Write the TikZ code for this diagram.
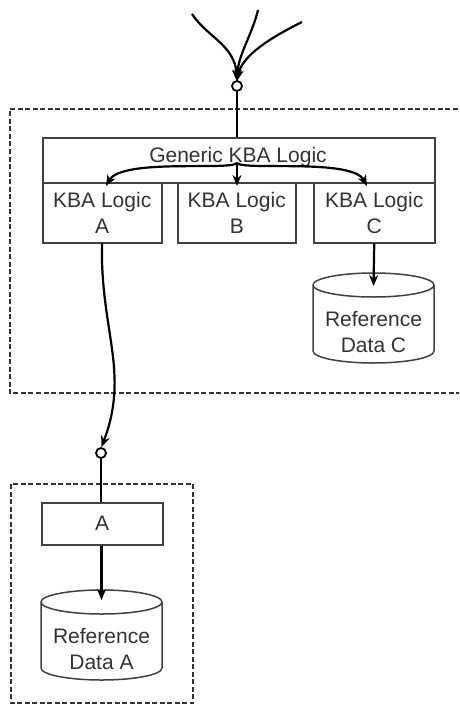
\documentclass[tikz,border=0pt]{standalone}
\usepackage{fontspec}
\setmainfont{Liberation Sans}
\usetikzlibrary{arrows.meta}
\tikzset{
  boundary/.style={draw=black!80, line width=2pt, dash pattern=on 5pt off 2.5pt},
  block/.style={draw=black!75, line width=1.5pt, fill=white, inner sep=0pt,
    align=center, font=\fontsize{21}{25.5}\selectfont, text=black!80},
  label/.style={inner sep=0pt, align=center, font=\fontsize{21}{25.5}\selectfont, text=black!80},
  wire/.style={draw=black, line width=2.2pt},
  flow/.style={wire, -{Stealth[length=11pt,width=9pt]}},
  socket/.style={circle, draw=black, line width=1.8pt, fill=white, minimum size=10pt, inner sep=0pt},
  drum/.style={draw=black!75, line width=1.5pt, fill=white}
}
\begin{document}
\begin{tikzpicture}[x=1pt,y=-1pt]
  \useasboundingbox (0,0) rectangle (459,706);

  % system boundaries
  \begin{scope}
    \clip (0,0) rectangle (459,706);
    \draw[boundary] (480,109) -- (10,109) -- (10,393) -- (480,393);
  \end{scope}
  \draw[boundary] (11,484) rectangle (193,703);

  % incoming requests
  \node[socket] (inport) at (237,86) {};
  \coordinate (tip) at (237,81);
  \coordinate (src1) at (192,14);
  \coordinate (src2) at (258,10);
  \coordinate (src3) at (302,22);
  \draw[flow] (src1) .. controls (207,37) and (235,45) .. (tip);
  \draw[flow] (src2) .. controls (252,35) and (238,55) .. (tip);
  \draw[flow] (src3) .. controls (272,37) and (242,55) .. (tip);

  % KBA logic blocks
  \node[block, minimum width=392pt, minimum height=45pt, anchor=north west] (generic) at (42,137) {};
  \node[label] at (238,157) {Generic KBA Logic};
  \node[block, minimum width=119pt, minimum height=60pt, anchor=north west] (logicA) at (42,182) {KBA Logic\\A};
  \node[block, minimum width=118pt, minimum height=60pt, anchor=north west] (logicB) at (177,182) {KBA Logic\\B};
  \node[block, minimum width=121pt, minimum height=60pt, anchor=north west] (logicC) at (313,182) {KBA Logic\\C};

  \draw[wire] (inport.south) -- (generic.north -| inport.south);

  % dispatch inside the generic logic
  \coordinate (hub) at (237,163);
  \draw[flow] (hub) .. controls (230,171) and (122,158) .. (106,186);
  \draw[flow] (hub) -- (237,186);
  \draw[flow] (hub) .. controls (244,171) and (352,158) .. (367,186);

  % reference data C
  \draw[drum] (313,285) -- (313,351) arc[start angle=180, end angle=360, x radius=60.5pt, y radius=12pt]
    -- (434,285) arc[start angle=0, end angle=180, x radius=60.5pt, y radius=12pt]
    arc[start angle=180, end angle=360, x radius=60.5pt, y radius=12pt];
  \node[label] (refC) at (373.5,332) {Reference\\Data C};
  \coordinate (refCtop) at (373.5,286);
  \draw[flow] (logicC.south) -- (refCtop);

  % remote component A
  \node[socket] (remoteport) at (101,453) {};
  \coordinate (tipA) at (101.5,447);
  \draw[flow] (logicA.south -| 102,0) .. controls (100,330) and (130,372) .. (tipA);
  \node[block, minimum width=121pt, minimum height=42pt, anchor=north west] (compA) at (41,502) {A};
  \draw[wire] (remoteport.south) -- (compA.north -| remoteport.south);

  % reference data A
  \draw[drum] (41,602) -- (41,668) arc[start angle=180, end angle=360, x radius=60.5pt, y radius=12pt]
    -- (162,602) arc[start angle=0, end angle=180, x radius=60.5pt, y radius=12pt]
    arc[start angle=180, end angle=360, x radius=60.5pt, y radius=12pt];
  \node[label] (refA) at (101.5,649) {Reference\\Data A};
  \coordinate (refAtop) at (101.5,600);
  \draw[flow] (compA.south -| refAtop) -- (refAtop);
\end{tikzpicture}
\end{document}
